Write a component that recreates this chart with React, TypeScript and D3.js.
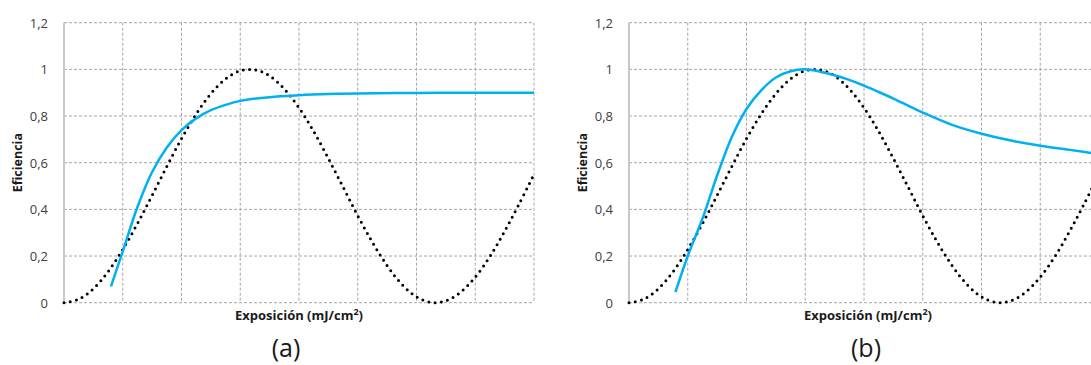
import React from 'react'
import * as d3 from 'd3'

const width = 1091
const height = 365

// y ticks shown on both panels
const yTicks = [0, 0.2, 0.4, 0.6, 0.8, 1, 1.2]
const yTickLabels = ['0', '0,2', '0,4', '0,6', '0,8', '1', '1,2']
// vertical grid lines (no x tick labels in the original)
const xGrid = [1, 2, 3, 4, 5, 6, 7, 8]

// dotted reference curve, same in both panels
const dotX = [0, 0.25, 0.5, 0.75, 1, 1.25, 1.5, 1.75, 2, 2.25, 2.5, 2.75, 3, 3.25, 3.5, 3.75, 4,
  4.25, 4.5, 4.75, 5, 5.25, 5.5, 5.75, 6, 6.25, 6.5, 6.75, 7, 7.25, 7.5, 7.75, 8]
const dotY = [0, 0.015, 0.06, 0.133, 0.228, 0.339, 0.46, 0.584, 0.703, 0.808, 0.896, 0.959, 0.994,
  0.998, 0.972, 0.916, 0.835, 0.734, 0.618, 0.496, 0.373, 0.259, 0.159, 0.079, 0.025, 0.001,
  0.008, 0.045, 0.11, 0.198, 0.306, 0.425, 0.55]

// blue curve, panel (a)
const blueAX = [0.8, 1, 1.25, 1.5, 1.75, 2, 2.25, 2.5, 2.75, 3, 3.5, 4, 4.5, 5, 6, 7, 8]
const blueAY = [0.07, 0.22, 0.41, 0.56, 0.665, 0.74, 0.79, 0.825, 0.848, 0.865, 0.881, 0.889,
  0.894, 0.897, 0.899, 0.9, 0.9]

// blue curve, panel (b)
const blueBX = [0.79, 1, 1.25, 1.5, 1.75, 2, 2.25, 2.5, 2.75, 3, 3.25, 3.5, 3.75, 4, 4.25, 4.5,
  4.75, 5, 5.5, 6, 6.5, 7, 7.5, 8]
const blueBY = [0.045, 0.2, 0.36, 0.545, 0.71, 0.83, 0.91, 0.965, 0.992, 1.0, 0.99, 0.975, 0.955,
  0.93, 0.903, 0.875, 0.845, 0.815, 0.762, 0.724, 0.695, 0.673, 0.655, 0.637]

const plotTop = 22.7
const plotBottom = 302.7
const plotWidth = 470
const font = '"Open Sans", sans-serif'

const yScale = d3.scaleLinear().domain([0, 1.2]).range([plotBottom, plotTop])

type PanelProps = {
  left: number
  blueX: number[]
  blueY: number[]
  tag: string
  titleX: number
  tagX: number
}

const Panel = ({ left, blueX, blueY, tag, titleX, tagX }: PanelProps) => {
  const xScale = d3.scaleLinear().domain([0, 8]).range([left, left + plotWidth])

  const line = d3.line<[number, number]>()
    .x(d => xScale(d[0]))
    .y(d => yScale(d[1]))
    .curve(d3.curveCatmullRom.alpha(0.5))

  const dotted = line(dotX.map((v, i) => [v, dotY[i]] as [number, number])) || ''
  const blue = line(blueX.map((v, i) => [v, blueY[i]] as [number, number])) || ''

  return (
    <g>
      {/* horizontal grid */}
      {yTicks.map(t => (
        <line key={'h' + t} x1={left} x2={left + plotWidth} y1={yScale(t)} y2={yScale(t)}
          stroke="#a6a6a6" strokeWidth={1} strokeDasharray="3 2" />
      ))}
      {/* vertical grid */}
      {xGrid.map(t => (
        <line key={'v' + t} x1={xScale(t)} x2={xScale(t)} y1={plotTop} y2={plotBottom}
          stroke="#a6a6a6" strokeWidth={1} strokeDasharray="3 2" />
      ))}
      {/* y axis line */}
      <line x1={left} x2={left} y1={plotTop} y2={plotBottom} stroke="#c8c8c8" strokeWidth={2} />

      {yTicks.map((t, i) => (
        <text key={'l' + t} x={left - 16} y={yScale(t)} textAnchor="end" dominantBaseline="central"
          fontFamily={font} fontSize={13} fill="#404040">{yTickLabels[i]}</text>
      ))}

      <path d={dotted} fill="none" stroke="#000" strokeWidth={3} strokeLinecap="round"
        strokeDasharray="0 6.3" />
      <path d={blue} fill="none" stroke="#00b0f0" strokeWidth={2.5} />

      <text transform={`translate(${left - 47},${(plotTop + plotBottom) / 2}) rotate(-90)`}
        textAnchor="middle" dominantBaseline="central" fontFamily={font} fontSize={12.5}
        fontWeight="bold" fill="#1a1a1a">Eficiencia</text>

      <text x={titleX} y={320} textAnchor="middle" fontFamily={font} fontSize={13}
        fontWeight="bold" fill="#1a1a1a">
        Exposición (mJ/cm<tspan fontSize={9} dy={-5}>2</tspan><tspan dy={5}>)</tspan>
      </text>

      <text x={tagX} y={357} textAnchor="middle" fontFamily={font} fontSize={25} fill="#1a1a1a">{tag}</text>
    </g>
  )
}

const App = () => {
  return (
    <svg width={width} height={height} viewBox={`0 0 ${width} ${height}`}
      style={{ position: 'absolute', left: 0, top: 0, background: '#fff' }}>
      <Panel left={64} blueX={blueAX} blueY={blueAY} tag="(a)" titleX={299} tagX={286} />
      <Panel left={629} blueX={blueBX} blueY={blueBY} tag="(b)" titleX={868} tagX={866} />
    </svg>
  )
}

export default App
